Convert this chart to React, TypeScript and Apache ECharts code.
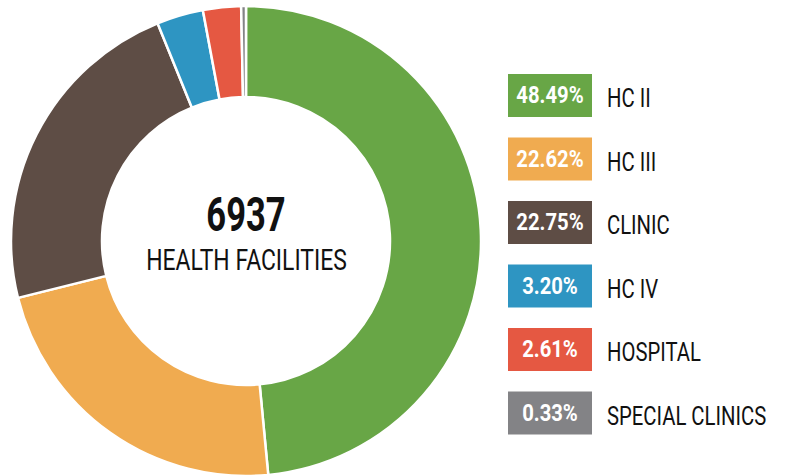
import React, { useEffect, useRef } from "react";
import * as echarts from "echarts";

const categories = ["HC II", "HC III", "CLINIC", "HC IV", "HOSPITAL", "SPECIAL CLINICS"];
const shares = [48.49, 22.62, 22.75, 3.2, 2.61, 0.33];
const totalFacilities = 6937;
const centerCaption = "HEALTH FACILITIES";

const palette = ["#68a646", "#f0ab50", "#5e4d45", "#2e95c2", "#e55842", "#838386"];

const FONT = "Roboto, 'Noto Sans', sans-serif";

export default function App() {
  const ref = useRef<HTMLDivElement>(null);

  useEffect(() => {
    document.body.style.margin = "0";
    const chart = echarts.init(ref.current!, null, { renderer: "svg" });

    const legendTop = 74;
    const pitch = 63.5;
    const boxW = 84;
    const boxH = 43;
    const boxX = 508;

    const graphics: any[] = [];
    categories.forEach((name, i) => {
      const top = legendTop + i * pitch;
      graphics.push({
        type: "rect",
        shape: { x: boxX, y: top, width: boxW, height: boxH },
        style: { fill: palette[i] },
        silent: true,
      });
      graphics.push({
        type: "text",
        x: boxX + boxW / 2,
        y: top + boxH / 2,
        scaleX: 0.88,
        style: {
          text: shares[i].toFixed(2) + "%",
          fill: "#ffffff",
          font: `bold 23px ${FONT}`,
          textAlign: "center",
          textVerticalAlign: "middle",
        },
        silent: true,
      });
      graphics.push({
        type: "text",
        x: 607,
        y: top + boxH / 2 + 3,
        scaleX: 0.78,
        style: {
          text: name,
          fill: "#111111",
          font: `normal 26px ${FONT}`,
          textAlign: "left",
          textVerticalAlign: "middle",
        },
        silent: true,
      });
    });

    graphics.push({
      type: "text",
      x: 246,
      y: 214,
      scaleX: 0.72,
      style: {
        text: String(totalFacilities),
        fill: "#111111",
        font: `bold 48px ${FONT}`,
        textAlign: "center",
        textVerticalAlign: "middle",
      },
      silent: true,
    });
    graphics.push({
      type: "text",
      x: 246.5,
      y: 260,
      scaleX: 0.79,
      style: {
        text: centerCaption,
        fill: "#111111",
        font: `normal 29px ${FONT}`,
        textAlign: "center",
        textVerticalAlign: "middle",
      },
      silent: true,
    });

    chart.setOption({
      animation: false,
      backgroundColor: "#ffffff",
      series: [
        {
          type: "pie",
          center: [246, 241],
          radius: [144, 235],
          startAngle: 90,
          clockwise: true,
          silent: true,
          label: { show: false },
          labelLine: { show: false },
          emphasis: { disabled: true },
          itemStyle: { borderColor: "#ffffff", borderWidth: 2.5 },
          data: categories.map((name, i) => ({
            name,
            value: shares[i],
            itemStyle: { color: palette[i] },
          })),
        },
      ],
      graphic: graphics,
    });

    return () => chart.dispose();
  }, []);

  return (
    <div
      ref={ref}
      style={{ position: "absolute", left: 0, top: 0, width: 785, height: 475 }}
    />
  );
}
